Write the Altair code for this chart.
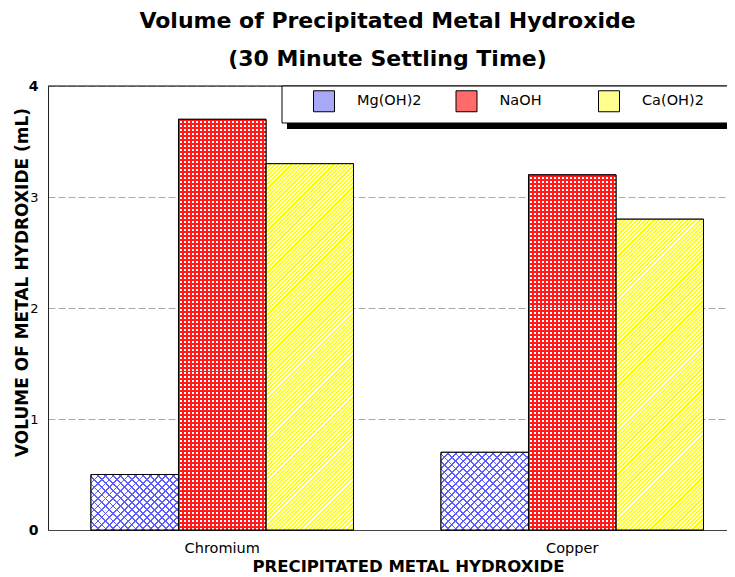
import altair as alt
import pandas as pd

metals = ["Chromium", "Copper"]
series = ["Mg(OH)2", "NaOH", "Ca(OH)2"]
mg_oh2 = [0.5, 0.7]
naoh = [3.7, 3.2]
ca_oh2 = [3.3, 2.8]
y_ticks = [0, 1, 2, 3, 4]
colors = ["#a8a8f6", "#ff6a6a", "#ffff90"]

rows = []
for i, m in enumerate(metals):
    for s, vals in zip(series, [mg_oh2, naoh, ca_oh2]):
        rows.append({"Metal": m, "Series": s, "Volume": vals[i]})
df = pd.DataFrame(rows)

W, H = 679, 444
Y_MAX = 4
FONT = "DejaVu Sans"
BAR_W = 262.5 / 3  # width of one bar in pixels (band * 0.75 / 3)

x = alt.X(
    "Metal:N",
    sort=metals,
    scale=alt.Scale(paddingInner=0.25, paddingOuter=0.095, align=0.6466, round=False),
    axis=alt.Axis(
        title="PRECIPITATED METAL HYDROXIDE",
        labelAngle=0, ticks=False, grid=False,
        domainColor="#444", domainWidth=1,
        labelFont=FONT, labelFontSize=14.5, labelColor="black", labelPadding=11,
        titleFont=FONT, titleFontSize=16.5, titleFontWeight="bold", titleColor="black",
        titleX=360, titleY=41, titleBaseline="alphabetic", titleAlign="center",
    ),
)
x_off = alt.XOffset("Series:N", sort=series, scale=alt.Scale(paddingInner=0, paddingOuter=0))
y = alt.Y(
    "Volume:Q",
    scale=alt.Scale(domain=[0, Y_MAX], nice=False),
    axis=alt.Axis(
        title="VOLUME OF METAL HYDROXIDE (mL)",
        values=y_ticks, ticks=False,
        domainColor="#222", domainWidth=1,
        gridColor="#aaaaaa", gridDash=[7, 3], gridWidth=1,
        labelFont=FONT, labelColor="black", labelPadding=10,
        labelFontSize={"condition": {"test": "datum.value == 0 || datum.value == 4", "value": 14}, "value": 13},
        labelFontWeight={"condition": {"test": "datum.value == 0 || datum.value == 4", "value": "bold"}, "value": "normal"},
        titleFont=FONT, titleFontSize=17, titleFontWeight="bold", titleColor="black",
        titleX=-26, titleY=196, titleBaseline="middle", titleAlign="center", titleAngle=270,
    ),
)

base = alt.Chart(df).mark_bar(stroke="black", strokeWidth=1, opacity=1).encode(
    x=x, xOffset=x_off, y=y,
    fill=alt.Fill(
        "Series:N", sort=series,
        scale=alt.Scale(domain=series, range=colors),
        legend=alt.Legend(
            orient="none", legendX=265, legendY=4, direction="horizontal", columns=3,
            title=None, symbolType="square", symbolSize=441,
            symbolStrokeColor="black", symbolStrokeWidth=1,
            labelFont=FONT, labelFontSize=14.5, labelColor="black", labelOffset=22,
            columnPadding=31.5, gridAlign="all", padding=0,
        ),
    ),
)


# ---- hatch textures (style only) built as repeating gradient stripes ----
def stripe_stops(n, frac, line, bg):
    stops = []
    for k in range(n):
        a, b, c = k / n, (k + frac) / n, (k + 1) / n
        stops += [
            {"offset": round(a, 5), "color": line},
            {"offset": round(b, 5), "color": line},
            {"offset": round(b, 5), "color": bg},
            {"offset": round(c, 5), "color": bg},
        ]
    return stops


def diag(w, h, period, frac, line, bg, rising=True):
    lam = w * (w + h) / (w * w + h * h)
    n = max(1, round((w + h) / period))
    g = {"gradient": "linear", "stops": stripe_stops(n, frac, line, bg)}
    if rising:
        g.update({"x1": 0, "y1": 0, "x2": lam, "y2": lam * h / w})
    else:
        g.update({"x1": 0, "y1": 1, "x2": lam, "y2": 1 - lam * h / w})
    return g


def straight(length, period, frac, line, bg, vertical_lines=True):
    n = max(1, round(length / period))
    g = {"gradient": "linear", "stops": stripe_stops(n, frac, line, bg)}
    if vertical_lines:
        g.update({"x1": 0, "y1": 0, "x2": 1, "y2": 0})
    else:
        g.update({"x1": 0, "y1": 0, "x2": 0, "y2": 1})
    return g


CLEAR = "rgba(255,255,255,0)"
textures = []
for i, m in enumerate(metals):
    for s, vals in zip(series, [mg_oh2, naoh, ca_oh2]):
        h = vals[i] / Y_MAX * H
        if s == "Mg(OH)2":
            fills = [diag(BAR_W, h, 7.5, 0.24, "#5c5cff", "white", True),
                     diag(BAR_W, h, 7.5, 0.24, "#5c5cff", CLEAR, False)]
        elif s == "NaOH":
            fills = [straight(BAR_W, 4.0, 0.5, "#ff1a1a", "white", True),
                     straight(h, 4.0, 0.5, "#ff1a1a", CLEAR, False)]
        else:
            fills = [diag(BAR_W, h, 4.2, 0.5, "#ffff00", "#ffffe6", True)]
        for f in fills:
            textures.append(
                alt.Chart(df)
                .transform_filter(f"datum.Metal == '{m}' && datum.Series == '{s}'")
                .mark_bar(fill=f, strokeWidth=0)
                .encode(x=x, xOffset=x_off, y=y)
            )

outline = alt.Chart(df).mark_bar(fillOpacity=0, stroke="black", strokeWidth=1).encode(
    x=x, xOffset=x_off, y=y
)

one = alt.Data(values=[{"k": 1}])
top_line = alt.Chart(one).mark_rule(color="black", strokeWidth=1).encode(
    x=alt.value(0), x2=alt.value(W), y=alt.value(0)
)
shadow = alt.Chart(one).mark_rect(color="black").encode(
    x=alt.value(239), x2=alt.value(W + 20), y=alt.value(36), y2=alt.value(43)
)
box = alt.Chart(one).mark_rect(fill="white", stroke="black", strokeWidth=1).encode(
    x=alt.value(234), x2=alt.value(W + 20), y=alt.value(0), y2=alt.value(37)
)

chart = alt.layer(base, *textures, outline, top_line, shadow, box).properties(
    width=W, height=H,
    padding={"left": 40, "top": 78, "right": 0, "bottom": 46},
    autosize=alt.AutoSizeParams(type="none"),
    title=alt.TitleParams(
        text="Volume of Precipitated Metal Hydroxide",
        subtitle="(30 Minute Settling Time)",
        font=FONT, fontSize=22, fontWeight="bold", color="black",
        subtitleFont=FONT, subtitleFontSize=22, subtitleFontWeight="bold", subtitleColor="black",
        subtitlePadding=16, anchor="middle", frame="group", offset=8,
    ),
).configure_view(stroke=None).configure(font=FONT, background="white")

chart.save("out.html", embed_options={"renderer": "svg", "actions": False})
